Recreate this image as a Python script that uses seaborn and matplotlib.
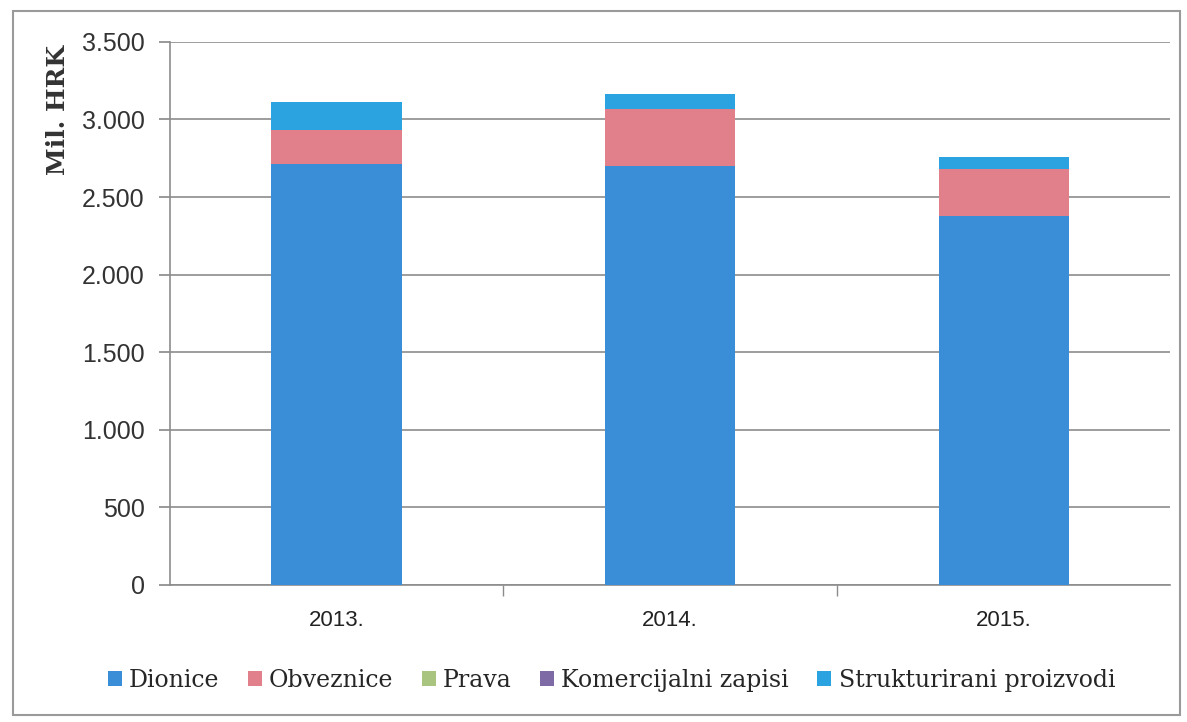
import numpy as np
import pandas as pd
import matplotlib
matplotlib.use("Agg")
import matplotlib.pyplot as plt
from matplotlib.patches import Rectangle, Patch
from matplotlib.ticker import FuncFormatter
import seaborn as sns

# Data (Mil. HRK)
years = ["2013.", "2014.", "2015."]
dionice = [2710, 2700, 2380]
obveznice = [225, 370, 300]
prava = [0, 0, 0]
komercijalni = [0, 0, 0]
strukturirani = [175, 95, 80]

series_names = ["Dionice", "Obveznice", "Prava", "Komercijalni zapisi", "Strukturirani proizvodi"]
series_colors = ["#3a8ed8", "#e17f8b", "#a9c47f", "#7e6aa5", "#2aa3e0"]
yticks = [0, 500, 1000, 1500, 2000, 2500, 3000, 3500]

sns.set_theme(style="white")
plt.rcParams["font.family"] = ["Liberation Sans", "DejaVu Sans"]

df = pd.DataFrame({
    "year": years,
    "Dionice": dionice,
    "Obveznice": obveznice,
    "Prava": prava,
    "Komercijalni zapisi": komercijalni,
    "Strukturirani proizvodi": strukturirani,
})

fig = plt.figure(figsize=(11.87, 7.22), dpi=100)
ax = fig.add_axes([0.143, 0.19, 0.843, 0.752])

# stacked bars: draw cumulative totals from top layer down
cum = df[series_names].cumsum(axis=1)
for name, color in reversed(list(zip(series_names, series_colors))):
    sns.barplot(x=df["year"], y=cum[name], color=color, width=0.39,
                saturation=1, ax=ax, zorder=3, linewidth=0)

ax.set_ylim(0, 3500)
ax.set_yticks(yticks)
ax.yaxis.set_major_formatter(FuncFormatter(lambda v, p: f"{int(v):,}".replace(",", ".")))
ax.grid(axis="y", color="#8c8c8c", linewidth=1.2, zorder=0)
ax.set_xlabel("")
ax.set_ylabel("Mil. HRK", fontsize=18, fontweight="bold", family="DejaVu Serif",
              color="#333333")
ax.yaxis.set_label_coords(-0.1, 0.875)

for side in ["top", "right"]:
    ax.spines[side].set_visible(False)
for side in ["left", "bottom"]:
    ax.spines[side].set_color("#8c8c8c")
    ax.spines[side].set_linewidth(1.2)

ax.tick_params(axis="y", which="major", left=True, length=8, color="#8c8c8c",
               labelsize=18, labelcolor="#333333", pad=10)
ax.tick_params(axis="x", which="major", bottom=False, labelsize=16,
               labelcolor="#222222", pad=12)
# category boundary ticks on x axis
ax.set_xticks([0.5, 1.5], minor=True)
ax.tick_params(axis="x", which="minor", bottom=True, length=8, color="#8c8c8c")
ax.set_xlim(-0.5, 2.5)

handles = [Patch(facecolor=c, edgecolor="none") for c in series_colors]
fig.legend(handles, series_names, loc="center", bbox_to_anchor=(0.515, 0.058),
           ncol=5, frameon=False, handlelength=0.6, handleheight=0.6,
           handletextpad=0.3, columnspacing=1.2,
           prop={"family": "DejaVu Serif", "size": 17})

# outer chart border
fig.patches.append(Rectangle((0.011, 0.01), 0.983, 0.975, transform=fig.transFigure,
                             fill=False, edgecolor="#9a9a9a", linewidth=1.5))

fig.savefig("out.png", dpi=100)
